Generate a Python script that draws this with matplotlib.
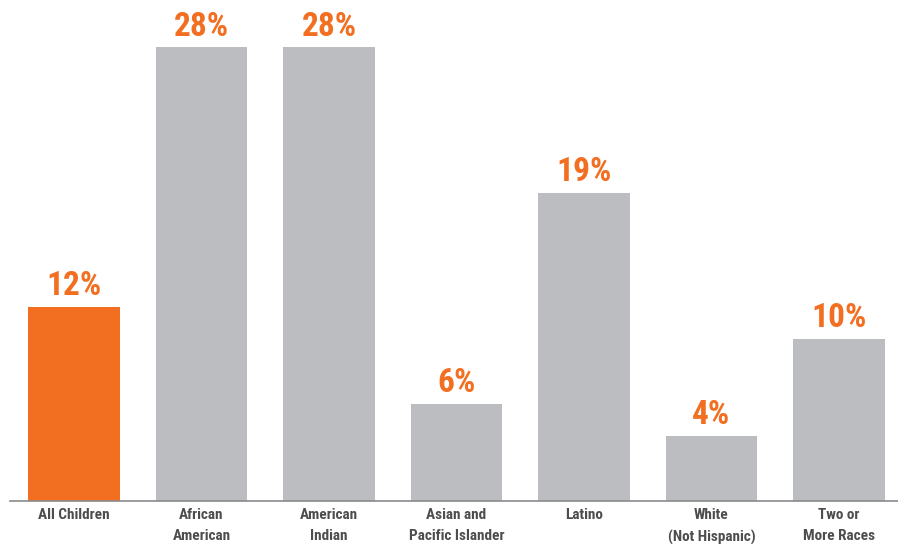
import matplotlib
matplotlib.use('Agg')
import matplotlib.pyplot as plt
from matplotlib import font_manager
import numpy as np

names = {f.name for f in font_manager.fontManager.ttflist}
narrow = [n for n in ['Liberation Sans Narrow', 'Roboto Condensed', 'Open Sans Condensed',
                      'DejaVu Sans Condensed'] if n in names]
plt.rcParams['font.family'] = narrow + ['DejaVu Sans']

ORANGE = '#f26f21'
GREY = '#bcbdc0'

categories = ['All Children', 'African\nAmerican', 'American\nIndian',
              'Asian and\nPacific Islander', 'Latino', 'White\n(Not Hispanic)',
              'Two or\nMore Races']
values = [12, 28, 28, 6, 19, 4, 10]
colors = [ORANGE] + [GREY] * 6

W, H = 898, 544
fig = plt.figure(figsize=(W / 100, H / 100), dpi=100)
ax = fig.add_axes([10 / W, 43 / H, 888 / W, 501 / H])

x = np.arange(len(values))
bars = ax.bar(x, values, width=0.72, color=colors, zorder=2)

ax.set_xlim(-0.502, 6.463)
ax.set_ylim(0, 501 / 16.2)

for b, v in zip(bars, values):
    ax.annotate(f'{v}%', (b.get_x() + b.get_width() / 2, v),
                xytext=(0, 3.5), textcoords='offset points',
                ha='center', va='bottom', color=ORANGE,
                fontsize=24, fontweight='bold', fontstretch='condensed')

ax.set_xticks(x)
ax.set_xticklabels(categories, fontsize=11, fontweight='bold', color='#4d4d4f',
                   linespacing=1.65, fontstretch='condensed')
ax.tick_params(axis='x', length=0, pad=5)
ax.set_yticks([])

for s in ['top', 'right', 'left']:
    ax.spines[s].set_visible(False)
ax.spines['bottom'].set_color('#8a8a8c')
ax.spines['bottom'].set_linewidth(1.2)

fig.savefig('out.png', dpi=100)
